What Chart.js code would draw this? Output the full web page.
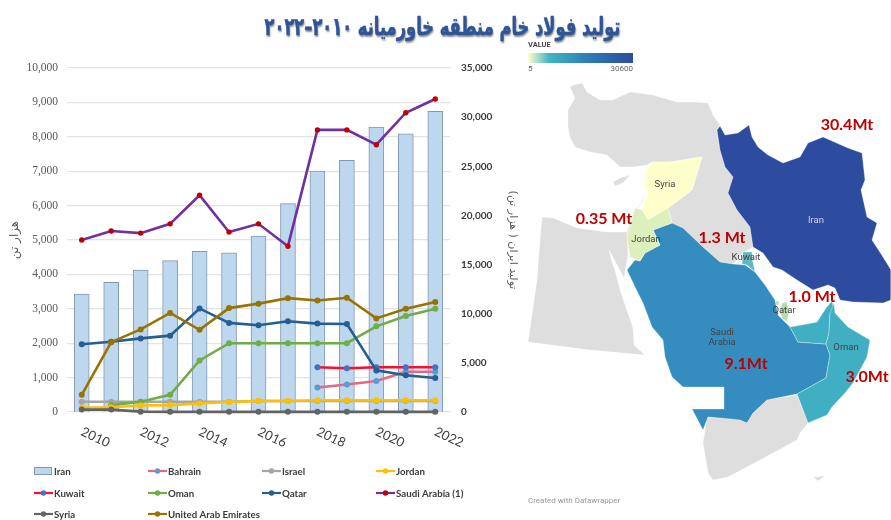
<!DOCTYPE html>
<html lang="fa"><head><meta charset="utf-8">
<script src="https://cdn.jsdelivr.net/npm/chart.js@4"></script>
<style>
html,body{margin:0;padding:0;background:#fff;width:891px;height:520px;overflow:hidden}
#title{position:absolute;left:200px;width:486px;top:14px;text-align:center;direction:rtl;font:bold 22px "DejaVu Sans";color:#2F5597;text-shadow:1px 2px 2px #8a8a8a;white-space:nowrap;transform:translateX(-0.5px) scale(.74,1.12);-webkit-text-stroke:.5px #2F5597}
#c1{position:absolute;left:0;top:0}
#c2{position:absolute;left:520px;top:40px}
</style></head><body>
<canvas id="c1" width="530" height="520"></canvas>
<canvas id="c2" width="371" height="470"></canvas>
<div id="title">تولید فولاد خام منطقه خاورمیانه ۲۰۱۰–۲۰۲۲</div>
<script>
const years=['2010','2011','2012','2013','2014','2015','2016','2017','2018','2019','2020','2021','2022'];
const iran=[12000,13200,14450,15400,16350,16200,17900,21200,24500,25600,29000,28300,30600];
const bahrain=[null,null,null,null,null,null,null,null,710,800,900,1170,1170];
const israel=[300,300,300,300,300,300,320,320,320,320,320,320,320];
const jordan=[130,140,190,200,250,290,320,320,340,340,340,340,340];
const kuwait=[null,null,null,null,null,null,null,null,1300,1270,1300,1300,1300];
const oman=[null,200,300,500,1500,2000,2000,2000,2000,2000,2490,2790,3000];
const qatar=[1970,2040,2140,2220,3010,2590,2520,2640,2570,2560,1210,1070,990];
const saudi=[5000,5260,5200,5470,6300,5230,5470,4820,8200,8200,7770,8700,9100];
const syria=[70,70,10,5,5,5,5,5,5,5,5,5,5];
const uae=[500,2030,2400,2880,2390,3020,3150,3310,3240,3320,2720,3000,3200];

const leftAxisTitle='هزار تن';
const rightAxisTitle='تولید ایران ( هزار تن)';

const legendColumns=[34,148,262,376];
const legendRows=[471,493,514];

// Map outlines, in map units
const greyMass=[[573,85],[582,83],[587,92],[600,100],[613,100],[630,92],[653,95],[677,102],[693,102],[708,103],[713,115],[720,125],[717,130],[720,150],[725,167],[733,177],[728,193],[737,210],[750,227],[753,247],[743,253],[733,264],[720,262],[703,247],[683,228],[672,223],[668,208],[692,190],[702,157],[670,162],[652,162],[647,165],[633,167],[620,167],[607,155],[590,152],[575,147],[570,137],[568,127],[568,110],[575,98],[570,87],[573,85]];
const cyprus=[[613,182],[620,178],[630,175],[623,183],[615,186],[613,182]];
const levant=[[646,190],[641,203],[635,210],[628,238],[630,257],[627,232],[634,212],[642,203],[646,190]];
const egypt=[[542,217],[553,218],[577,228],[607,232],[627,232],[628,255],[624,278],[609,250],[612,262],[615,270],[620,290],[633,328],[634,345],[645,355],[590,350],[528,342],[537,280],[540,240],[542,217]];
const syriaShape=[[652,162],[670,162],[702,157],[692,190],[668,208],[648,220],[642,210],[648,193],[644,187],[645,173],[652,162]];
const jordanShape=[[648,220],[668,208],[672,223],[653,230],[660,245],[645,253],[640,261],[630,257],[627,237],[635,208],[642,210],[648,220]];
const saudiShape=[[653,230],[672,223],[683,228],[703,247],[720,262],[733,264],[745,265],[755,272],[765,285],[775,300],[778,315],[790,327],[798,342],[826,344],[830,355],[826,378],[797,394],[767,400],[753,413],[747,423],[740,420],[720,418],[708,417],[703,430],[692,409],[724,409],[724,387],[683,387],[672,377],[665,357],[663,340],[652,327],[643,303],[635,287],[627,270],[635,260],[640,261],[645,253],[660,245],[653,230]];
const kuwaitShape=[[743,252],[752,252],[753,262],[755,272],[747,265],[742,264],[743,252]];
const qatarShape=[[782,303],[787,302],[789,313],[787,322],[782,318],[780,312],[782,303]];
const bahrainShape=[[776,301],[779,301],[779,305],[776,305],[776,301]];
const uaeShape=[[790,327],[807,324],[817,322],[826,308],[832,301],[834,310],[830,313],[829,333],[826,344],[798,342],[790,327]];
const omanShape=[[834,303],[835,313],[848,327],[870,340],[867,357],[853,383],[845,393],[832,407],[827,415],[808,423],[797,394],[826,378],[830,355],[826,344],[829,333],[830,313],[834,303]];
const yemenShape=[[797,395],[808,423],[800,433],[797,440],[760,460],[728,477],[713,480],[708,473],[703,443],[707,418],[720,418],[740,420],[747,423],[753,413],[767,400],[797,395]];
const socotra=[[813,477],[825,476],[818,481],[813,477]];
const iranShape=[[720,126],[725,135],[738,133],[749,125],[752,137],[758,147],[768,155],[783,163],[800,157],[808,143],[823,137],[848,148],[862,153],[865,180],[861,190],[867,217],[877,223],[872,240],[883,257],[891,270],[891,300],[883,303],[853,302],[840,300],[835,288],[828,285],[813,290],[797,280],[782,270],[773,267],[763,253],[753,247],[750,227],[737,210],[728,193],[733,177],[725,167],[720,150],[717,130],[720,126]];

const mapShapes=[
 [greyMass,'#DEDEDE'],[cyprus,'#DEDEDE'],[levant,'#DEDEDE'],[egypt,'#DEDEDE'],[yemenShape,'#DEDEDE'],[socotra,'#DEDEDE'],
 [iranShape,'#2D4CA0'],[saudiShape,'#348DBE'],[uaeShape,'#40AFC4'],[omanShape,'#40AFC4'],
 [syriaShape,'#FFFFCC'],[jordanShape,'#DDEFBC'],[kuwaitShape,'#5CBAC5'],[qatarShape,'#B6DDB0'],[bahrainShape,'#B6DDB0']
];
const mapNames=[['Syria',665,185],['Jordan',646,240],['Kuwait',746,258],['Qatar',784,311],['Saudi',722,333],['Arabia',722,343],['Oman',846,348]];
const mapValues=[['30.4Mt',847,125],['0.35 Mt',604,219],['1.3 Mt',722,238],['1.0 Mt',812,297],['9.1Mt',746,364],['3.0Mt',867,377]];

const lineDs=(label,data,line,point,order,r)=>({type:'line',label,data,clip:false,borderColor:line,backgroundColor:point,pointBackgroundColor:point,pointBorderColor:point,pointBorderWidth:0,borderWidth:2.6,pointRadius:r||3,pointHoverRadius:r||3,tension:0,spanGaps:false,yAxisID:'y',order});

const legendPlugin={id:'fixedLegend',afterDraw(chart){
  const ctx=chart.ctx;
  ctx.save();ctx.font='bold 9.7px Lato';ctx.textBaseline='middle';ctx.textAlign='left';
  chart.data.datasets.forEach((d,i)=>{
    const x=legendColumns[i%4],y=legendRows[Math.floor(i/4)];
    if(d.type==='bar'){
      ctx.fillStyle=d.backgroundColor;ctx.strokeStyle=d.borderColor;ctx.lineWidth=1;
      ctx.fillRect(x+.5,y-3.5,17,7);ctx.strokeRect(x+.5,y-3.5,17,7);
    }else{
      ctx.strokeStyle=d.borderColor;ctx.lineWidth=2.2;
      ctx.beginPath();ctx.moveTo(x,y);ctx.lineTo(x+19,y);ctx.stroke();
      ctx.fillStyle=d.pointBackgroundColor;ctx.beginPath();ctx.arc(x+9.5,y,2.7,0,7);ctx.fill();
    }
    ctx.fillStyle='#3a3a3a';ctx.fillText(d.label,x+20,y+.5);
  });
  const sx=chart.scales.x;
  ctx.font='13px Lato';ctx.fillStyle='#404040';
  years.forEach((yr,i)=>{ if(i%2) return;
    ctx.save();ctx.translate(sx.getPixelForValue(i),431);ctx.rotate(25*Math.PI/180);
    ctx.fillText(yr,0,0);ctx.restore();
  });
  ctx.restore();
}};

new Chart(document.getElementById('c1'),{
 data:{labels:years,datasets:[
  {type:'bar',label:'Iran',data:iran,backgroundColor:'#BDD7EE',borderColor:'#8497B0',borderWidth:1,barThickness:15,yAxisID:'y1',order:100},
  lineDs('Bahrain',bahrain,'#DE6A87','#5B9BD5',9),
  lineDs('Israel',israel,'#A5A5A5','#A5A5A5',8),
  lineDs('Jordan',jordan,'#FFC000','#FFC000',2),
  lineDs('Kuwait',kuwait,'#FF0D2E','#4472C4',7),
  lineDs('Oman',oman,'#70AD47','#70AD47',6),
  lineDs('Qatar',qatar,'#255E91','#255E91',5),
  lineDs('Saudi Arabia (1)',saudi,'#7030A0','#C00000',4,2.7),
  lineDs('Syria',syria,'#636363','#636363',1),
  lineDs('United Arab Emirates',uae,'#997300','#997300',3)
 ]},
 options:{responsive:false,animation:false,layout:{padding:{top:68}},
  plugins:{legend:{display:false},tooltip:{enabled:false}},
  scales:{
   x:{grid:{display:false},border:{display:false},ticks:{display:false},afterFit(s){s.height=108}},
   y:{position:'left',min:0,max:10000,grid:{color:'#E3E3E3',lineWidth:1.3,drawTicks:false},border:{display:false},
      ticks:{stepSize:1000,padding:9,color:'#595959',font:{family:'Liberation Serif',size:11.5}},
      title:{display:true,text:leftAxisTitle,color:'#595959',font:{family:'DejaVu Sans',size:12},padding:{top:8,bottom:0}},
      afterFit(s){s.width=67}},
   y1:{position:'right',min:0,max:35000,grid:{display:false,drawTicks:false},border:{display:false},
      ticks:{stepSize:5000,padding:11,color:'#3a3a3a',font:{family:'Lato',weight:'bold',size:10}},
      title:{display:true,text:rightAxisTitle,color:'#595959',font:{family:'DejaVu Sans',size:11},padding:{top:11,bottom:0}},
      afterFit(s){s.width=80}}
  }
 },
 plugins:[legendPlugin]
});

const mapTextPlugin={id:'mapText',afterDraw(chart){
  const ctx=chart.ctx,X=chart.scales.x,Y=chart.scales.y;
  const px=v=>X.getPixelForValue(v),py=v=>Y.getPixelForValue(v);
  ctx.save();ctx.textBaseline='middle';
  const g=ctx.createLinearGradient(px(528),0,px(633),0);
  g.addColorStop(0,'#FFFFCC');g.addColorStop(.2,'#41B6C4');g.addColorStop(.55,'#2C7FB8');g.addColorStop(1,'#2D4CA0');
  ctx.fillStyle=g;ctx.fillRect(px(528),py(53),105,10);
  ctx.font='bold 7.5px Roboto';ctx.fillStyle='#444';ctx.textAlign='left';ctx.fillText('VALUE',px(528),py(45));
  ctx.font='8px Roboto';ctx.fillStyle='#666';ctx.fillText('5',px(528),py(69));
  ctx.textAlign='right';ctx.fillText('30600',px(633),py(69));
  ctx.textAlign='left';ctx.fillStyle='#999';ctx.fillText('Created with Datawrapper',px(528),py(501));
  ctx.textAlign='center';ctx.font='9.5px Roboto';ctx.fillStyle='#444';
  mapNames.forEach(([t,x,y])=>ctx.fillText(t,px(x),py(y)));
  ctx.fillStyle='#D0D4E4';ctx.fillText('Iran',px(816),py(221));
  ctx.font='bold 16px Lato';ctx.fillStyle='#C00000';
  mapValues.forEach(([t,x,y])=>ctx.fillText(t,px(x),py(y)));
  ctx.restore();
}};

new Chart(document.getElementById('c2'),{
 type:'scatter',
 data:{datasets:mapShapes.map(([pts,col],i)=>({data:pts,showLine:true,fill:'shape',backgroundColor:col,borderColor:'rgba(255,255,255,0.55)',borderWidth:.6,pointRadius:0,tension:0,order:mapShapes.length-i}))},
 options:{responsive:false,animation:false,layout:{padding:0},
  plugins:{legend:{display:false},tooltip:{enabled:false}},
  scales:{x:{type:'linear',display:false,min:520,max:891},y:{type:'linear',display:false,min:40,max:510,reverse:true}}
 },
 plugins:[mapTextPlugin]
});
</script>
</body></html>
